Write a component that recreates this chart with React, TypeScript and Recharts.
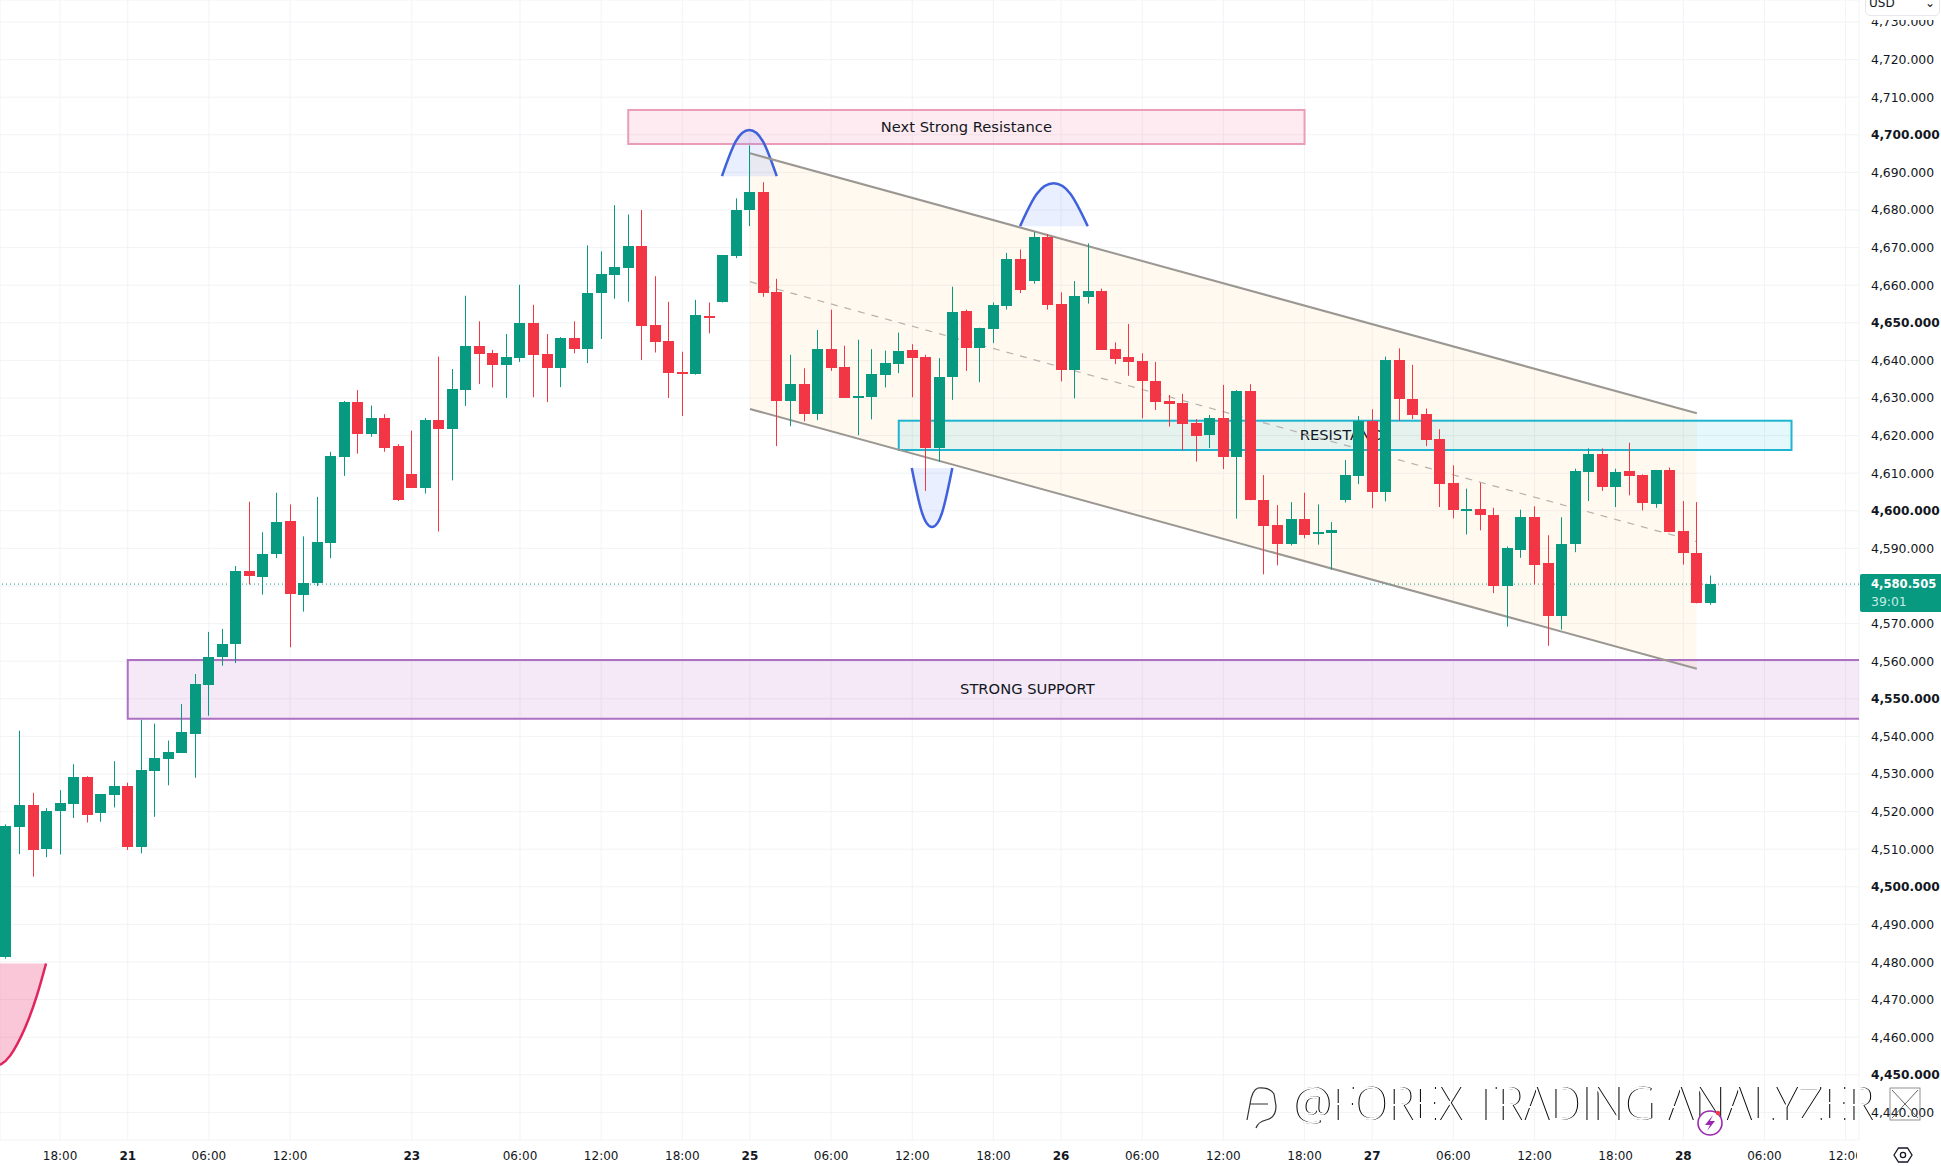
import React from 'react';
import {
  Area,
  Bar,
  CartesianGrid,
  ComposedChart,
  ReferenceArea,
  ReferenceLine,
  XAxis,
  YAxis,
} from 'recharts';

const opens = [
  4481.4, 4516.0, 4521.8, 4510.0, 4520.1, 4521.9, 4529.1, 4519.5, 4524.4, 4526.7,
  4510.6, 4530.8, 4534.1, 4535.6, 4540.6, 4553.7, 4561.0, 4564.5, 4584.1, 4582.4,
  4588.4, 4597.2, 4577.7, 4580.8, 4591.4, 4614.4, 4628.9, 4620.5, 4624.7, 4617.2,
  4609.7, 4606.1, 4624.1, 4621.7, 4632.1, 4643.9, 4642.0, 4638.8, 4640.7, 4650.0,
  4641.7, 4638.0, 4646.0, 4643.1, 4657.8, 4662.8, 4664.7, 4670.5, 4649.5, 4645.2,
  4636.9, 4636.4, 4651.9, 4655.4, 4667.7, 4679.9, 4684.9, 4658.3, 4629.2, 4633.7,
  4625.7, 4643.1, 4638.3, 4630.2, 4630.3, 4636.1, 4639.1, 4642.8, 4640.9, 4616.7,
  4635.6, 4653.2, 4643.3, 4648.4, 4654.5, 4667.1, 4661.2, 4672.7, 4655.1, 4637.5,
  4656.9, 4658.5, 4643.0, 4640.8, 4639.9, 4634.5, 4629.2, 4628.7, 4623.3, 4620.1,
  4624.7, 4614.3, 4631.9, 4603.0, 4596.1, 4591.3, 4597.7, 4593.9, 4594.2, 4603.0,
  4609.2, 4623.9, 4604.9, 4640.1, 4629.7, 4625.7, 4619.1, 4607.3, 4600.2, 4600.4,
  4599.0, 4580.1, 4589.7, 4598.3, 4586.0, 4572.1, 4591.1, 4610.3, 4615.1, 4606.3,
  4610.5, 4609.5, 4601.7, 4610.8, 4594.5, 4588.9, 4575.6,
];

const closes = [
  4516.3, 4521.8, 4509.8, 4520.2, 4522.4, 4529.1, 4519.0, 4524.6, 4526.7, 4510.6,
  4531.0, 4534.3, 4535.8, 4541.2, 4553.9, 4561.2, 4564.7, 4584.1, 4582.6, 4588.4,
  4596.9, 4577.8, 4580.9, 4591.6, 4614.5, 4628.9, 4620.5, 4624.7, 4616.8, 4602.9,
  4606.1, 4624.1, 4621.7, 4632.4, 4643.9, 4641.7, 4638.8, 4640.9, 4650.0, 4641.5,
  4638.0, 4646.0, 4643.1, 4658.0, 4663.1, 4664.9, 4670.5, 4649.2, 4644.9, 4636.7,
  4636.6, 4652.1, 4651.2, 4667.9, 4680.1, 4684.9, 4658.0, 4629.2, 4633.7, 4625.7,
  4643.1, 4638.0, 4630.0, 4630.6, 4636.4, 4639.3, 4642.5, 4640.7, 4616.7, 4635.6,
  4652.9, 4643.3, 4648.7, 4654.8, 4667.1, 4658.8, 4672.9, 4654.8, 4637.5, 4657.2,
  4658.5, 4642.8, 4640.4, 4639.7, 4634.4, 4629.0, 4628.4, 4623.1, 4619.9, 4624.7,
  4614.3, 4631.9, 4602.8, 4595.9, 4591.3, 4597.7, 4593.5, 4594.4, 4594.8, 4609.4,
  4623.9, 4604.9, 4640.1, 4629.7, 4625.5, 4618.8, 4607.1, 4600.1, 4600.4, 4598.8,
  4580.1, 4590.0, 4598.3, 4585.7, 4572.1, 4591.3, 4610.5, 4615.1, 4606.3, 4610.3,
  4609.2, 4602.0, 4610.8, 4594.3, 4588.7, 4575.6, 4580.4,
];

const highs = [
  4516.6, 4541.5, 4525.0, 4520.9, 4525.7, 4532.6, 4529.4, 4524.6, 4533.4, 4527.7,
  4544.4, 4543.4, 4538.9, 4548.6, 4556.6, 4567.8, 4568.6, 4585.3, 4602.4, 4594.3,
  4604.8, 4601.7, 4593.2, 4603.7, 4615.7, 4629.2, 4632.1, 4628.0, 4625.7, 4617.7,
  4621.3, 4624.7, 4641.0, 4637.7, 4657.2, 4650.4, 4642.8, 4647.0, 4660.1, 4654.8,
  4647.0, 4646.2, 4650.4, 4670.6, 4669.0, 4681.3, 4678.8, 4680.0, 4662.4, 4655.6,
  4642.3, 4656.1, 4655.4, 4667.9, 4683.1, 4697.2, 4687.4, 4661.7, 4641.5, 4637.9,
  4648.1, 4653.5, 4643.9, 4645.5, 4643.0, 4642.6, 4647.4, 4644.3, 4641.5, 4640.6,
  4659.6, 4653.5, 4648.7, 4655.4, 4668.6, 4669.5, 4674.1, 4673.6, 4658.1, 4661.1,
  4671.1, 4659.1, 4644.8, 4649.7, 4641.9, 4639.6, 4630.8, 4631.1, 4624.4, 4625.5,
  4633.5, 4632.1, 4633.7, 4609.5, 4601.5, 4602.3, 4604.8, 4601.7, 4597.0, 4613.5,
  4625.2, 4627.0, 4641.0, 4643.2, 4638.8, 4627.2, 4621.7, 4612.1, 4605.9, 4607.4,
  4600.8, 4590.5, 4600.3, 4601.2, 4593.5, 4598.3, 4611.2, 4616.6, 4616.6, 4611.2,
  4618.1, 4609.7, 4610.8, 4611.5, 4602.6, 4602.3, 4582.8,
];

const lows = [
  4480.9, 4508.7, 4502.7, 4507.9, 4508.6, 4518.3, 4517.1, 4517.3, 4521.1, 4509.8,
  4508.9, 4518.6, 4527.0, 4535.6, 4529.0, 4545.5, 4558.8, 4559.5, 4580.4, 4577.7,
  4587.4, 4563.7, 4573.2, 4580.0, 4587.4, 4609.3, 4615.2, 4619.7, 4615.7, 4602.6,
  4606.1, 4604.6, 4594.5, 4608.1, 4627.9, 4633.7, 4632.8, 4630.0, 4639.6, 4630.2,
  4628.9, 4632.9, 4641.9, 4639.3, 4645.7, 4656.4, 4655.6, 4640.1, 4642.1, 4630.0,
  4625.2, 4636.2, 4647.2, 4655.4, 4667.2, 4675.7, 4656.9, 4617.2, 4622.5, 4623.8,
  4624.1, 4637.2, 4630.0, 4620.1, 4624.3, 4632.8, 4636.6, 4630.2, 4605.3, 4613.0,
  4629.5, 4637.2, 4634.2, 4644.6, 4653.5, 4657.9, 4660.4, 4653.5, 4634.4, 4629.9,
  4655.1, 4642.8, 4639.0, 4635.9, 4624.6, 4626.8, 4622.4, 4616.1, 4613.1, 4616.7,
  4611.1, 4597.9, 4602.8, 4583.1, 4585.5, 4590.8, 4592.7, 4591.0, 4584.3, 4602.2,
  4607.1, 4600.7, 4602.5, 4623.9, 4624.4, 4617.2, 4601.0, 4598.0, 4593.7, 4594.8,
  4578.1, 4569.2, 4587.5, 4580.4, 4564.1, 4568.4, 4589.0, 4602.6, 4605.3, 4601.0,
  4604.1, 4600.1, 4600.8, 4594.3, 4585.7, 4575.4, 4575.0,
];

const priceTicks = [
  4440, 4450, 4460, 4470, 4480, 4490, 4500, 4510, 4520, 4530, 4540, 4550, 4560, 4570, 4580,
  4590, 4600, 4610, 4620, 4630, 4640, 4650, 4660, 4670, 4680, 4690, 4700, 4710, 4720, 4730,
];
const timeTicks = [4, 9, 15, 21, 30, 38, 44, 50, 55, 61, 67, 73, 78, 84, 90, 96, 101, 107, 113, 119, 124, 130, 136];
const timeLabels = [
  '18:00', '21', '06:00', '12:00', '23', '06:00', '12:00', '18:00', '25', '06:00', '12:00', '18:00',
  '26', '06:00', '12:00', '18:00', '27', '06:00', '12:00', '18:00', '28', '06:00', '12:00',
];

const lastPrice = 4580.505;

const channelBand = [
  { i: 55, band: [4627.07, 4695.08] },
  { i: 125, band: [4558.0, 4625.93] },
];
const channelUpper = [4695.08, 4625.93];
const channelMiddle = [4660.93, 4591.78];
const channelLower = [4627.07, 4558.0];

const arcOne = [
  { i: 52.93, v: 4689.0 },
  { i: 53.94, v: 4698.2 },
  { i: 54.95, v: 4701.3 },
  { i: 55.97, v: 4698.2 },
  { i: 56.98, v: 4689.0 },
];
const arcTwo = [
  { i: 74.97, v: 4675.7 },
  { i: 76.2, v: 4684.25 },
  { i: 77.45, v: 4687.1 },
  { i: 78.7, v: 4684.25 },
  { i: 79.97, v: 4675.7 },
];
const arcThree = [
  { i: 66.96, v: 4611.4 },
  { i: 67.71, v: 4599.6 },
  { i: 68.46, v: 4595.7 },
  { i: 69.21, v: 4599.6 },
  { i: 69.96, v: 4611.4 },
];
const arcPink = [
  { i: -0.44, v: 4452.6 },
  { i: 0.31, v: 4455.1 },
  { i: 1.37, v: 4462.2 },
  { i: 2.27, v: 4470.9 },
  { i: 2.96, v: 4479.6 },
];

const candles = opens.map((open, i) => ({
  i,
  open,
  close: closes[i],
  high: highs[i],
  low: lows[i],
  range: [lows[i], highs[i]],
}));

const UP = '#089981';
const DOWN = '#f23645';
const FONT = '"DejaVu Sans", Verdana, sans-serif';
const X_MIN = -0.4436;
const X_MAX = 136.99;

const Candle = ({ x, y, width, height, payload }: any) => {
  const { open, close, high, low } = payload;
  const unit = height / (high - low || 1);
  const top = Math.round(y + (high - Math.max(open, close)) * unit);
  const bottom = Math.round(y + (high - Math.min(open, close)) * unit);
  const left = Math.round(x + width / 2 - 5.5);
  const color = close >= open ? UP : DOWN;
  return (
    <g>
      <rect x={left + 5} y={y} width={1} height={height} fill={color} />
      <rect x={left} y={top} width={11} height={Math.max(bottom - top, 2)} fill={color} />
    </g>
  );
};

const zone = (text: string, fill: string, stroke: string, dx = 0, openRight = false) => (p: any) => (
  <g>
    <rect x={p.x} y={p.y} width={p.width} height={p.height} fill={fill} stroke={openRight ? 'none' : stroke} strokeWidth={2} />
    {openRight && (
      <path
        d={`M${p.x + p.width} ${p.y} H${p.x} V${p.y + p.height} H${p.x + p.width}`}
        fill="none"
        stroke={stroke}
        strokeWidth={2}
      />
    )}
    <text
      x={p.x + p.width / 2 + dx}
      y={p.y + p.height / 2 + 5}
      textAnchor="middle"
      fontFamily={FONT}
      fontSize={14.7}
      fill="#131722"
    >
      {text}
    </text>
  </g>
);

const TimeTick = ({ x, y, payload }: any) => {
  const label = timeLabels[timeTicks.indexOf(payload.value)];
  return (
    <text
      x={x}
      y={y + 11.5}
      textAnchor="middle"
      fontFamily={FONT}
      fontSize={12}
      fontWeight={label.length === 2 ? 700 : 400}
      fill="#131722"
    >
      {label}
    </text>
  );
};

const PriceTick = ({ y, payload }: any) => {
  const major = payload.value % 50 === 0;
  return (
    <text x={1871} y={y + 4.5} fontFamily={FONT} fontSize={major ? 12.2 : 12.4} fontWeight={major ? 700 : 400} fill="#131722">
      {payload.value.toLocaleString('en-US', { minimumFractionDigits: 3 })}
    </text>
  );
};

export default function App() {
  return (
    <div style={{ position: 'absolute', left: 0, top: 0, width: 1941, height: 1166, background: '#fff', overflow: 'hidden' }}>
      <ComposedChart width={1941} height={1166} data={candles} margin={{ top: 0, right: 0, bottom: 0, left: 0 }}>
        <CartesianGrid stroke="#f1f3f6" strokeWidth={1} />
        <XAxis
          dataKey="i"
          type="number"
          domain={[X_MIN, X_MAX]}
          allowDataOverflow
          ticks={timeTicks}
          interval={0}
          height={26}
          axisLine={false}
          tickLine={false}
          tick={<TimeTick />}
        />
        <YAxis
          orientation="right"
          type="number"
          domain={[4432.66, 4735.85]}
          allowDataOverflow
          ticks={priceTicks}
          interval={0}
          width={82}
          axisLine={false}
          tickLine={false}
          tick={<PriceTick />}
        />

        <Area
          data={channelBand}
          dataKey="band"
          type="linear"
          stroke="none"
          fill="#ff9800"
          fillOpacity={0.06}
          isAnimationActive={false}
        />
        <ReferenceArea x1={46} x2={96} y1={4697.55} y2={4706.6} shape={zone('Next Strong Resistance', 'rgba(242,54,120,0.1)', '#eb9cb9')} />
        <ReferenceArea x1={9} x2={X_MAX} y1={4544.7} y2={4560.3} shape={zone('STRONG SUPPORT', 'rgba(156,39,176,0.1)', '#ad70c2', 34, true)} />
        <ReferenceArea x1={66} x2={132} y1={4616.17} y2={4623.96} shape={zone('RESISTANCE', 'rgba(0,188,212,0.1)', '#1fb4cf')} />

        <Area data={arcOne} dataKey="v" baseValue={4689} type="natural" stroke="#3f62dc" strokeWidth={2.5} fill="#2962ff" fillOpacity={0.1} isAnimationActive={false} />
        <Area data={arcTwo} dataKey="v" baseValue={4675.7} type="natural" stroke="#3f62dc" strokeWidth={2.5} fill="#2962ff" fillOpacity={0.1} isAnimationActive={false} />
        <Area data={arcThree} dataKey="v" baseValue={4611.4} type="natural" stroke="#3f62dc" strokeWidth={2.5} fill="#2962ff" fillOpacity={0.1} isAnimationActive={false} />
        <Area data={arcPink} dataKey="v" baseValue={4479.6} type="natural" stroke="#e0245e" strokeWidth={2.5} fill="#e91e63" fillOpacity={0.25} isAnimationActive={false} />

        <ReferenceLine segment={[{ x: 55, y: channelUpper[0] }, { x: 125, y: channelUpper[1] }]} stroke="#9b9792" strokeWidth={2} />
        <ReferenceLine segment={[{ x: 55, y: channelLower[0] }, { x: 125, y: channelLower[1] }]} stroke="#9b9792" strokeWidth={2} />
        <ReferenceLine segment={[{ x: 55, y: channelMiddle[0] }, { x: 125, y: channelMiddle[1] }]} stroke="#b5b1ac" strokeWidth={1.2} strokeDasharray="7 7" />
        <ReferenceLine y={lastPrice} stroke={UP} strokeWidth={1} strokeDasharray="1 3" />

        <Bar dataKey="range" barSize={11} shape={<Candle />} isAnimationActive={false} zIndex={1000} />
      </ComposedChart>

      {/* right hand axis furniture */}
      <div style={{ position: 'absolute', left: 1857, top: 1140, width: 84, height: 26, background: '#fff' }} />
      <div style={{ position: 'absolute', left: 1860, top: 0, width: 81, height: 20, background: '#fff' }} />
      <svg style={{ position: 'absolute', left: 1891, top: 1143 }} width={24} height={24} viewBox="0 0 24 24">
        <path d="M3 12 L7.5 5 H16.5 L21 12 L16.5 19 H7.5 Z" fill="none" stroke="#131722" strokeWidth={1.3} />
        <circle cx={12} cy={12} r={2.6} fill="none" stroke="#131722" strokeWidth={1.3} />
      </svg>
      <div
        style={{
          position: 'absolute',
          left: 1865,
          top: -6,
          width: 75,
          height: 22,
          background: '#fff',
          border: '1px solid #e6e8ee',
          borderRadius: 5,
          fontFamily: FONT,
          fontSize: 12,
          lineHeight: '17px',
          color: '#131722',
          paddingLeft: 3,
          boxSizing: 'border-box',
        }}
      >
        USD
        <span style={{ position: 'absolute', right: 4, top: 0 }}>⌄</span>
      </div>
      <div
        style={{
          position: 'absolute',
          left: 1860,
          top: 574,
          width: 81,
          height: 38,
          background: UP,
          borderRadius: '2px 0 0 2px',
          fontFamily: FONT,
          fontSize: 11.6,
          lineHeight: '17px',
          color: '#fff',
          paddingTop: 2,
          paddingLeft: 11,
          boxSizing: 'border-box',
        }}
      >
        <div style={{ fontWeight: 700 }}>4,580.505</div>
        <div style={{ color: '#c7ebe3', fontSize: 12.4 }}>39:01</div>
      </div>

      {/* watermark + event badge */}
      <svg style={{ position: 'absolute', left: 0, top: 0, pointerEvents: 'none' }} width={1941} height={1166}>
        <g style={{ filter: 'drop-shadow(1px 0.6px 0 #000)' }} fill="#fff">
          <text x={1292} y={1120} fontFamily='"Open Sans", sans-serif' fontWeight={300} fontSize={46} textLength={581} lengthAdjust="spacingAndGlyphs">
            @FOREX TRADING ANALYZER
          </text>
        </g>
        <rect x={1890} y={1088} width={30} height={32} fill="none" stroke="#777" strokeWidth={0.8} />
        <path d="M1892 1090 L1918 1118 M1918 1090 L1892 1118" stroke="#555" strokeWidth={0.9} />
        <path
          d="M1256 1128 Q1258 1122 1266 1120 Q1276 1118 1276 1106 L1274 1094 Q1270 1087 1258 1088 Q1252 1090 1250 1104 L1247 1120 M1250 1104 H1268"
          fill="none"
          stroke="#333"
          strokeWidth={1.2}
        />
        <circle cx={1710} cy={1123} r={12} fill="#fff" stroke="#9c27b0" strokeWidth={1.6} />
        <path d="M1713 1115 L1705 1125 H1710 L1707 1131 L1715 1121 H1710 Z" fill="#9c27b0" />
        <circle cx={1718} cy={1113} r={2.2} fill={DOWN} />
      </svg>
    </div>
  );
}
